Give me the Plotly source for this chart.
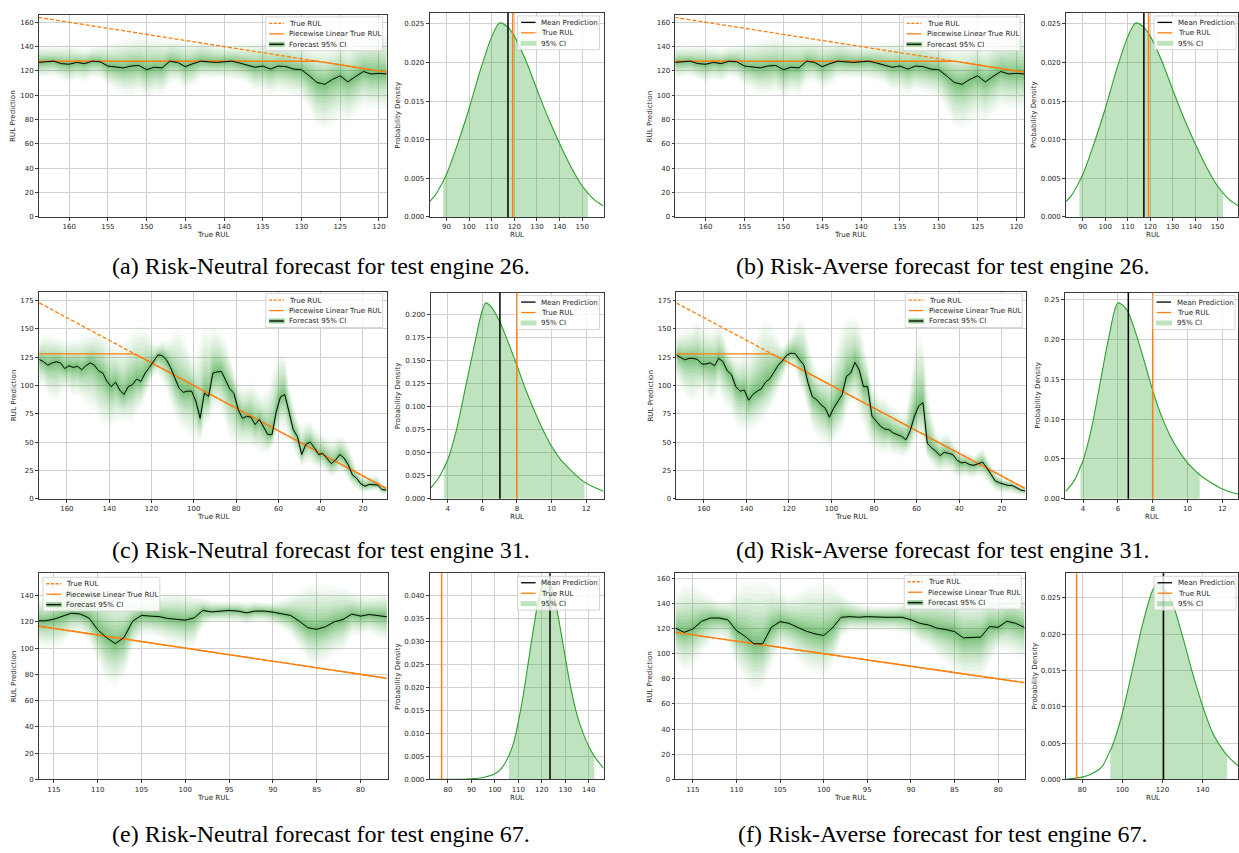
import numpy as np
import plotly.graph_objects as go

W, H = 1239, 853
ORANGE = "#ff7f0e"
GREEN = "#2ca02c"
FONT = "DejaVu Sans"
RUL_CAP = 128

# ---------------- Engine 26 (time series; identical for both risk settings) ----------------
e26_rul = list(range(164, 118, -1))
e26_mean = [127, 127.5, 128, 126, 125.5, 127, 126, 128, 127.5, 124,
            123, 122.5, 124, 124.5, 121, 123, 122.5, 128, 127, 123.5,
            126, 128, 127.5, 127, 127.5, 128, 126.5, 124.5, 123, 124,
            121.5, 124, 123.5, 121.5, 121, 116, 110.5, 109, 113, 116,
            111, 115.5, 119.5, 117.5, 118, 117.5]
e26_lo = [114, 115, 116, 113, 110, 113, 111, 115, 114, 108,
          105, 101, 100, 104, 97, 102, 100, 110, 111, 105,
          108, 114, 114, 114, 114, 113, 112, 110, 104, 104,
          100, 104, 102, 100, 98, 88, 75, 72, 77, 82,
          78, 84, 91, 89, 89, 88]
e26_hi = [141, 140, 140, 141, 141, 139, 138, 140, 141, 142,
          144, 146, 147, 148, 148, 147, 146, 146, 146, 144,
          144, 145, 144, 142, 141, 141, 142, 143, 144, 145,
          146, 146, 145, 143, 142, 141, 140, 140, 141, 144,
          141, 146, 150, 151, 152, 150]

# ---------------- Engine 31 ----------------
e31_rul = list(range(173, 8, -2))
e31n_mean = [123, 121, 118, 120, 121, 120, 115, 117.5, 116, 117,
             114, 117.5, 120, 118, 113, 111, 103.6, 99, 103, 96,
             92, 99, 100.7, 105.7, 103.6, 111, 116, 121, 127, 126.5,
             123, 116, 106.6, 97.8, 94, 95, 95, 86, 71, 93.4,
             90.4, 111, 112, 112.5, 105, 97, 93, 78.7, 71, 72.8,
             72, 65.5, 70, 63, 56.7, 56.7, 77, 90, 92, 77,
             61, 55, 39, 48, 50, 45, 39, 40, 35, 31,
             34, 39, 36, 30, 21, 18, 13, 11, 12.6, 12.5,
             12, 8, 7.6]
e31n_hi = [140, 144, 145, 144, 143, 141, 140, 140, 141, 141,
           143, 145, 146, 148, 148, 145, 141, 138, 136, 135,
           138, 142, 147, 151, 153, 151, 145, 138, 136, 140,
           139, 142, 148, 150, 145, 135, 125, 125, 140, 152,
           150, 151, 150, 145, 140, 128, 112, 102, 100, 100,
           104, 100, 92, 92, 98, 110, 122, 129, 128, 100,
           85, 70, 65, 68, 68, 63, 60, 57, 55, 52,
           54, 56, 54, 48, 38, 26, 21, 20, 20, 21,
           20, 14, 12]
e31n_lo = [100, 100, 92, 88, 86, 92, 97, 95, 90, 92,
           88, 84, 80, 78, 70, 65, 63, 63, 67, 70,
           68, 68, 68, 75, 80, 88, 100, 108, 110, 104,
           96, 85, 72, 66, 61, 58, 55, 52, 50, 62,
           68, 78, 80, 75, 65, 52, 47, 45, 46, 47,
           46, 44, 41, 40, 40, 45, 55, 63, 62, 52,
           44, 35, 28, 32, 32, 28, 26, 26, 22, 19,
           20, 24, 22, 16, 11, 9, 6, 6, 6, 7,
           7, 4, 4]
e31a_mean = [127, 125, 122.7, 124, 124, 123, 119, 119, 120, 117.5,
             124, 121, 113, 109.5, 99, 95, 96, 87, 92, 95,
             97, 103, 106, 112, 118, 122, 127, 128.6, 128, 122.7,
             118, 102, 90, 87.5, 83, 80, 72, 80, 86, 92,
             108, 111, 120.4, 114, 99, 99, 73, 68, 64, 61.5,
             61, 58, 56.7, 55, 52, 60, 73, 82, 85, 49,
             45, 42, 38, 41, 40, 39, 34, 31.7, 32, 30,
             29.5, 31, 32.3, 27.3, 21.4, 15.6, 14, 12.6, 11.7, 11.7,
             9.7, 7.6, 6.8]
e31a_hi = [145, 147, 150, 150, 152, 158, 152, 150, 148, 152,
           155, 148, 135, 128, 125, 125, 130, 128, 135, 145,
           155, 158, 155, 148, 140, 135, 140, 145, 152, 158,
           155, 140, 125, 115, 112, 112, 115, 125, 140, 152,
           160, 162, 160, 155, 140, 120, 100, 95, 90, 90,
           85, 80, 78, 75, 78, 100, 130, 145, 140, 100,
           75, 60, 55, 58, 58, 50, 45, 42, 42, 40,
           38, 42, 45, 38, 30, 24, 20, 18, 18, 16,
           14, 11, 10]
e31a_lo = [105, 100, 92, 88, 86, 90, 95, 92, 85, 88,
           95, 85, 80, 75, 65, 62, 60, 60, 62, 65,
           68, 72, 78, 85, 95, 105, 115, 118, 115, 100,
           90, 75, 60, 55, 50, 48, 45, 50, 55, 60,
           75, 85, 85, 75, 65, 50, 45, 42, 40, 40,
           42, 38, 38, 36, 38, 42, 50, 55, 50, 35,
           30, 25, 22, 25, 25, 22, 18, 18, 20, 18,
           18, 20, 18, 15, 10, 7, 5, 5, 5, 5,
           3, 3, 3]

# ---------------- Engine 67 ----------------
e67_rul = list(range(117, 76, -1))
e67n_mean = [120.8, 120.8, 122, 124.4, 126.6, 126, 123, 114, 108, 103.4,
             108, 120.6, 124.9, 124.4, 124, 122.6, 121.8, 121.3, 123, 128.7,
             127.6, 128.2, 128.7, 128.2, 126.9, 128.2, 128.2, 127.4, 126, 124.9,
             120.6, 115.5, 114.3, 116.3, 120, 121.8, 125.9, 124.4, 125.6, 124.9,
             123.9]
e67n_hi = [140, 137, 140, 145, 150, 152, 151, 150, 145, 143,
           140, 138, 137, 138, 140, 142, 143, 142, 140, 138,
           136, 136, 136, 136, 135, 136, 135, 135, 137, 140,
           145, 148, 150, 148, 147, 147, 143, 141, 140, 141,
           143]
e67n_lo = [103, 100, 100, 103, 110, 112, 106, 90, 75, 71,
           77, 100, 110, 110, 108, 105, 103, 100, 101, 116,
           120, 120, 120, 120, 118, 120, 120, 118, 115, 110,
           100, 90, 86, 90, 95, 98, 110, 110, 112, 108,
           105]
e67a_mean = [120.3, 117, 119.7, 125.8, 128.4, 128.4, 127, 118.4, 113.7, 107.9,
             107.9, 121, 125.5, 124.2, 121, 117.9, 115.8, 114.5, 120.5, 129,
             129.5, 129, 129.5, 129, 129, 129, 129, 127, 124.2, 122.9,
             120.3, 119.2, 117.6, 112.6, 113.2, 113.2, 121.6, 121, 125.8, 124.2,
             121]
e67a_hi = [148, 155, 155, 150, 146, 142, 142, 150, 158, 158,
           157, 155, 150, 146, 148, 153, 156, 156, 155, 148,
           143, 140, 138, 138, 138, 138, 140, 142, 145, 148,
           150, 150, 148, 145, 145, 146, 148, 146, 150, 150,
           148]
e67a_lo = [95, 86, 90, 100, 108, 112, 110, 90, 78, 70,
           72, 90, 105, 102, 95, 88, 84, 82, 90, 112,
           118, 118, 118, 118, 118, 118, 116, 115, 108, 105,
           98, 92, 86, 80, 80, 80, 92, 104, 102, 98,
           95]

# ---------------- Density data ----------------
d26_x = [82.6, 85, 88.5, 90, 95, 100, 105, 110, 113.5, 117, 120, 125, 130, 135, 140, 145, 150, 152.5, 155, 159.4]
d26_y = [0.0020, 0.0028, 0.0046, 0.0055, 0.0095, 0.0140, 0.0190, 0.0233, 0.0251, 0.0246,
         0.0234, 0.0203, 0.0165, 0.0128, 0.0095, 0.0065, 0.0040, 0.0031, 0.0023, 0.0014]
d26_mean, d26_true, d26_ci = 117.2, 119.3, (88.5, 152.5)

d31n_x = [3.0, 3.5, 3.8, 4.0, 4.5, 5.0, 5.5, 6.0, 6.2, 6.5, 7.0, 7.5, 8.0, 8.5, 9.0, 9.5, 10.0,
          10.5, 11.0, 11.5, 11.9, 12.5, 13.0]
d31n_y = [0.011, 0.023, 0.034, 0.042, 0.074, 0.118, 0.163, 0.205, 0.213, 0.209, 0.193, 0.170,
          0.145, 0.119, 0.096, 0.075, 0.057, 0.043, 0.033, 0.024, 0.018, 0.012, 0.008]
d31n_mean, d31n_true, d31n_ci = 7.02, 8.0, (3.8, 11.9)

d31a_x = [3.0, 3.5, 3.85, 4.0, 4.5, 5.0, 5.5, 6.0, 6.5, 7.0, 7.5, 8.0, 8.5, 9.0, 9.5, 10.0,
          10.5, 10.7, 11.0, 11.5, 12.0, 12.5, 13.0]
d31a_y = [0.009, 0.023, 0.040, 0.048, 0.090, 0.148, 0.205, 0.246, 0.238, 0.210, 0.174, 0.136,
          0.104, 0.079, 0.060, 0.045, 0.034, 0.030, 0.025, 0.018, 0.012, 0.008, 0.005]
d31a_mean, d31a_true, d31a_ci = 6.6, 8.0, (3.85, 10.7)

d67n_x = [72.2, 80, 85, 90, 95, 100, 103, 106, 108, 110, 112, 115, 118, 120, 122, 124, 126,
          128, 130, 132, 135, 138, 140, 142.4, 146.3]
d67n_y = [0.0, 0.0, 0.00002, 0.0001, 0.0004, 0.0012, 0.0025, 0.0052, 0.0080, 0.0125, 0.0180,
          0.0280, 0.0375, 0.0420, 0.0436, 0.0420, 0.0380, 0.0325, 0.0265, 0.0208, 0.0140,
          0.0095, 0.0072, 0.0050, 0.0024]
d67n_mean, d67n_true, d67n_ci = 123.5, 77.3, (106, 142.4)

d67a_x = [72.0, 75, 80, 85, 90, 94, 95, 100, 105, 110, 115, 117.5, 120, 125, 130, 135, 140,
          145, 150, 152.2, 155, 157.6]
d67a_y = [0.0, 0.0001, 0.0003, 0.0008, 0.0018, 0.0040, 0.0046, 0.0091, 0.0151, 0.0213, 0.0260,
          0.0270, 0.0265, 0.0242, 0.0197, 0.0146, 0.0101, 0.0064, 0.0041, 0.0033, 0.0025, 0.0019]
d67a_mean, d67a_true, d67a_ci = 120.5, 77.2, (94, 152.2)

# ---------------- tick labels ----------------
ts26_xt = [160, 155, 150, 145, 140, 135, 130, 125, 120]
ts26_yt = [0, 20, 40, 60, 80, 100, 120, 140, 160]
ts31_xt = [160, 140, 120, 100, 80, 60, 40, 20]
ts31_yt = [0, 25, 50, 75, 100, 125, 150, 175]
ts67_xt = [115, 110, 105, 100, 95, 90, 85, 80]
ts67n_yt = [0, 20, 40, 60, 80, 100, 120, 140]
ts67a_yt = [0, 20, 40, 60, 80, 100, 120, 140, 160]
d26_xt = [90, 100, 110, 120, 130, 140, 150]
d26_yt = [0.0, 0.005, 0.010, 0.015, 0.020, 0.025]
d31_xt = [4, 6, 8, 10, 12]
d31n_yt = [0.0, 0.025, 0.05, 0.075, 0.1, 0.125, 0.15, 0.175, 0.2]
d31a_yt = [0.0, 0.05, 0.10, 0.15, 0.20, 0.25]
d67n_xt = [80, 90, 100, 110, 120, 130, 140]
d67n_yt = [0.0, 0.005, 0.010, 0.015, 0.020, 0.025, 0.030, 0.035, 0.040]
d67a_xt = [80, 100, 120, 140]
d67a_yt = [0.0, 0.005, 0.010, 0.015, 0.020, 0.025]

captions = ["(a) Risk-Neutral forecast for test engine 26.",
            "(b) Risk-Averse forecast for test engine 26.",
            "(c) Risk-Neutral forecast for test engine 31.",
            "(d) Risk-Averse forecast for test engine 31.",
            "(e) Risk-Neutral forecast for test engine 67.",
            "(f) Risk-Averse forecast for test engine 67."]

# ---------------- figure construction ----------------
fig = go.Figure()
layout = dict(width=W, height=H, margin=dict(l=0, r=0, t=0, b=0),
              paper_bgcolor="white", plot_bgcolor="white", showlegend=False)
shapes, annotations = [], []
TXT = dict(family=FONT, size=7.1, color="#262626")


def sfx(i):
    return "" if i == 1 else str(i)


def setup_axes(i, box, xr, yr, xticks, yticks, yfmt=None):
    l, r, t, b = box
    common = dict(showgrid=True, gridcolor="#d0d0d0", gridwidth=0.8, zeroline=False,
                  showline=True, mirror=True, linecolor="#3a3a3a", linewidth=0.9,
                  ticks="outside", ticklen=3, tickwidth=0.8, tickcolor="#3a3a3a",
                  tickfont=dict(family=FONT, size=7.0, color="#262626"), fixedrange=True)
    layout["xaxis" + sfx(i)] = dict(common, domain=[l / W, r / W], range=xr, anchor="y" + sfx(i),
                                    tickmode="array", tickvals=xticks,
                                    ticktext=[str(v) for v in xticks])
    ytext = [format(v, yfmt) for v in yticks] if yfmt else [str(v) for v in yticks]
    layout["yaxis" + sfx(i)] = dict(common, domain=[1 - b / H, 1 - t / H], range=yr, anchor="x" + sfx(i),
                                    tickmode="array", tickvals=yticks, ticktext=ytext)


def axis_titles(box, xlabel, ylabel, yoff):
    l, r, t, b = box
    annotations.append(dict(x=(l + r) / 2 / W, y=1 - (b + 18) / H, xref="paper", yref="paper",
                            text=xlabel, showarrow=False, font=TXT, xanchor="center", yanchor="middle"))
    annotations.append(dict(x=(l - yoff) / W, y=1 - (t + b) / 2 / H, xref="paper", yref="paper",
                            text=ylabel, showarrow=False, font=TXT, textangle=-90,
                            xanchor="center", yanchor="middle"))


BANDS = [(1.0, 0.035), (0.9, 0.04), (0.8, 0.045), (0.7, 0.05), (0.6, 0.055), (0.5, 0.06),
         (0.42, 0.07), (0.34, 0.08), (0.26, 0.09), (0.19, 0.1), (0.12, 0.12), (0.06, 0.14)]


def add_ts(i, rul, mean, lo, hi):
    xa, ya = "x" + sfx(i), "y" + sfx(i)
    x = np.array(rul, float)
    m = np.array(mean, float)
    lo = np.array(lo, float)
    hi = np.array(hi, float)
    xx = np.concatenate([x, x[::-1]])
    for f, a in BANDS:
        up = m + f * (hi - m)
        dn = m - f * (m - lo)
        fig.add_trace(go.Scatter(x=xx, y=np.concatenate([up, dn[::-1]]), xaxis=xa, yaxis=ya,
                                 mode="lines", line=dict(width=0), fill="toself",
                                 fillcolor=f"rgba(44,160,44,{a})", hoverinfo="skip"))
    fig.add_trace(go.Scatter(x=x, y=x, xaxis=xa, yaxis=ya, mode="lines",
                             line=dict(color=ORANGE, width=1.3, dash="4px,2px")))
    fig.add_trace(go.Scatter(x=x, y=np.minimum(x, RUL_CAP), xaxis=xa, yaxis=ya, mode="lines",
                             line=dict(color=ORANGE, width=1.4)))
    fig.add_trace(go.Scatter(x=x, y=m, xaxis=xa, yaxis=ya, mode="lines",
                             line=dict(color="black", width=1.0)))


def add_density(i, dx, dy, mean_pred, true_rul, ci):
    xa, ya = "x" + sfx(i), "y" + sfx(i)
    x = np.array(dx, float)
    y = np.array(dy, float)
    sel = (x >= ci[0]) & (x <= ci[1])
    fig.add_trace(go.Scatter(x=x[sel], y=y[sel], xaxis=xa, yaxis=ya, mode="lines",
                             line=dict(width=0, shape="spline", smoothing=0.8),
                             fill="tozeroy", fillcolor="rgba(44,160,44,0.3)", hoverinfo="skip"))
    fig.add_trace(go.Scatter(x=x, y=y, xaxis=xa, yaxis=ya, mode="lines",
                             line=dict(color=GREEN, width=1.1, shape="spline", smoothing=0.8)))
    for v, c in ((mean_pred, "black"), (true_rul, ORANGE)):
        shapes.append(dict(type="line", xref=xa, yref=ya + " domain", x0=v, x1=v, y0=0, y1=1,
                           line=dict(color=c, width=1.5), layer="above"))


def legend(l, t, w, items):
    h = 34
    shapes.append(dict(type="rect", xref="paper", yref="paper", x0=l / W, x1=(l + w) / W,
                       y0=1 - (t + h) / H, y1=1 - t / H, line=dict(color="#cccccc", width=0.8),
                       fillcolor="rgba(255,255,255,0.8)", layer="above"))
    for k, (kind, text) in enumerate(items):
        yc = t + 6.5 + 10.5 * k
        x0, x1 = l + 3.5, l + 18
        if kind in ("patch", "patchline", "cipatch"):
            alpha = 0.3 if kind == "cipatch" else 0.5
            shapes.append(dict(type="rect", xref="paper", yref="paper", x0=(x0 - 0.5) / W, x1=(x1 + 1) / W,
                               y0=1 - (yc + 2.5) / H, y1=1 - (yc - 2.5) / H, line=dict(width=0),
                               fillcolor=f"rgba(44,160,44,{alpha})", layer="above"))
        if kind != "cipatch":
            col = {"dash": ORANGE, "line_o": ORANGE, "patchline": "black", "line_k": "black"}[kind]
            dash = "3px,1.5px" if kind == "dash" else "solid"
            shapes.append(dict(type="line", xref="paper", yref="paper", x0=x0 / W, x1=x1 / W,
                               y0=1 - yc / H, y1=1 - yc / H,
                               line=dict(color=col, width=1.3, dash=dash), layer="above"))
        annotations.append(dict(x=(l + 21.5) / W, y=1 - yc / H, xref="paper", yref="paper", text=text,
                                showarrow=False, font=TXT, xanchor="left", yanchor="middle"))


TS_ITEMS = [("dash", "True RUL"), ("line_o", "Piecewise Linear True RUL"), ("patchline", "Forecast 95% CI")]
D_ITEMS = [("line_k", "Mean Prediction"), ("line_o", "True RUL"), ("cipatch", "95% CI")]

# panel boxes in pixels: (left, right, top, bottom)
ts_boxes = [(39, 387, 15, 218), (676, 1025, 15, 218), (39, 387, 293, 501),
            (677, 1027, 293, 501), (39, 388, 576, 783), (676, 1026, 576, 783)]
d_boxes = [(430, 604, 13, 218), (1067, 1239, 13, 218), (431, 604, 294, 501),
           (1066, 1239, 294, 501), (430, 604, 576, 783), (1067, 1239, 576, 783)]
d_true_right = [604, 1241, 604, 1240, 604, 1241]

ts_specs = [
    (e26_mean, e26_lo, e26_hi, e26_rul, [163.9, 119], [0, 166], ts26_xt, ts26_yt),
    (e26_mean, e26_lo, e26_hi, e26_rul, [163.9, 119], [0, 166], ts26_xt, ts26_yt),
    (e31n_mean, e31n_lo, e31n_hi, e31_rul, [173.2, 8.8], [0, 183], ts31_xt, ts31_yt),
    (e31a_mean, e31a_lo, e31a_hi, e31_rul, [172.9, 8.5], [0, 183], ts31_xt, ts31_yt),
    (e67n_mean, e67n_lo, e67n_hi, e67_rul, [116.7, 76.9], [0, 157], ts67_xt, ts67n_yt),
    (e67a_mean, e67a_lo, e67a_hi, e67_rul, [117.0, 76.9], [0, 164], ts67_xt, ts67a_yt),
]
d_specs = [
    (d26_x, d26_y, d26_mean, d26_true, d26_ci, [82.6, 159.4], [0, 0.0264], d26_xt, d26_yt, ".3f"),
    (d26_x, d26_y, d26_mean, d26_true, d26_ci, [82.6, 159.1], [0, 0.0264], d26_xt, d26_yt, ".3f"),
    (d31n_x, d31n_y, d31n_mean, d31n_true, d31n_ci, [3.02, 13.0], [0, 0.2242], d31_xt, d31n_yt, ".3f"),
    (d31a_x, d31a_y, d31a_mean, d31a_true, d31a_ci, [2.97, 12.9], [0, 0.259], d31_xt, d31a_yt, ".2f"),
    (d67n_x, d67n_y, d67n_mean, d67n_true, d67n_ci, [72.2, 146.3], [0, 0.0448], d67n_xt, d67n_yt, ".3f"),
    (d67a_x, d67a_y, d67a_mean, d67a_true, d67a_ci, [72.0, 157.6], [0, 0.0284], d67a_xt, d67a_yt, ".3f"),
]
d_yoff = [32, 32, 33, 28, 32, 32]
caption_pos = [(321, 267), (943, 267), (321, 553), (943, 553), (321, 838), (943, 838)]

for p in range(6):
    it = 2 * p + 1
    idn = 2 * p + 2
    mean, lo, hi, rul, xr, yr, xt, yt = ts_specs[p]
    setup_axes(it, ts_boxes[p], xr, yr, xt, yt)
    add_ts(it, rul, mean, lo, hi)
    axis_titles(ts_boxes[p], "True RUL", "RUL Prediction", 26)

    dx, dy, dm, dtr, dci, dxr, dyr, dxt, dyt, fmt = d_specs[p]
    setup_axes(idn, d_boxes[p], dxr, dyr, dxt, dyt, fmt)
    add_density(idn, dx, dy, dm, dtr, dci)
    axis_titles((d_boxes[p][0], d_true_right[p], d_boxes[p][2], d_boxes[p][3]),
                "RUL", "Probability Density", d_yoff[p])

    l, r, t, b = ts_boxes[p]
    if p == 4:
        legend(l + 4, t + 4, 117, TS_ITEMS)
    else:
        legend(r - 4 - 117, t + 2, 117, TS_ITEMS)
    dl, dr, dt, db = d_boxes[p]
    legend(d_true_right[p] - 4 - 82, dt + 3, 82, D_ITEMS)

    cx, cy = caption_pos[p]
    annotations.append(dict(x=cx / W, y=1 - cy / H, xref="paper", yref="paper", text=captions[p],
                            showarrow=False, xanchor="center", yanchor="middle",
                            font=dict(family="Liberation Serif", size=24, color="black")))

layout["shapes"] = shapes
layout["annotations"] = annotations
fig.update_layout(**layout)
fig.write_html("out.html")
